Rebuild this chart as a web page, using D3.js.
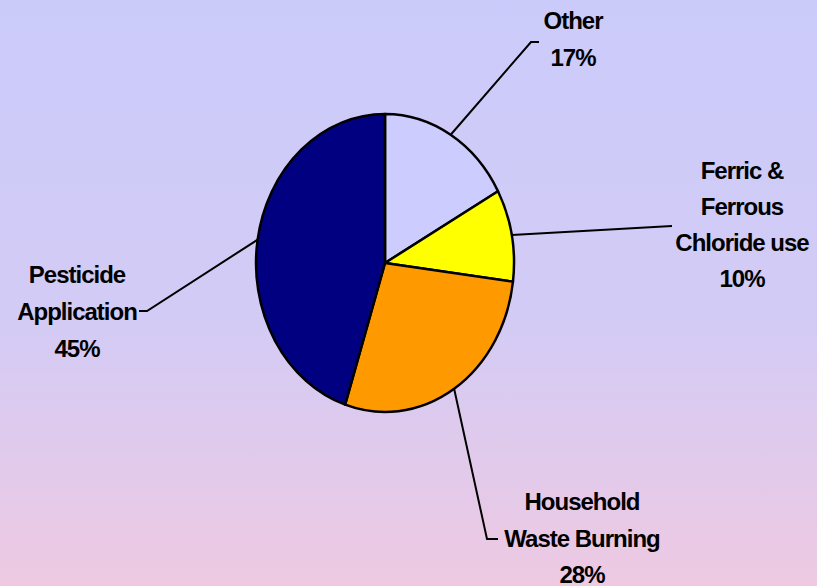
<!DOCTYPE html>
<html>
<head>
<meta charset="utf-8">
<script src="https://cdn.jsdelivr.net/npm/d3@7"></script>
<style>
  html, body { margin: 0; padding: 0; }
  body { width: 817px; height: 586px; overflow: hidden; }
  .pieLabel { font-family: "Liberation Sans", Arial, sans-serif; font-weight: bold; font-size: 24px; letter-spacing: -1px; fill: #000; }
  .leader { fill: none; stroke: #000; stroke-width: 2; }
  .slice { stroke: #000; stroke-width: 2.5; vector-effect: non-scaling-stroke; stroke-linejoin: round; }
</style>
</head>
<body>
<div id="chart"></div>
<script>
// chart data
var categories = ["Other", "Ferric & Ferrous Chloride use", "Household Waste Burning", "Pesticide Application"];
var values = [17, 10, 28, 45];
var labelLines = [["Other"], ["Ferric &", "Ferrous", "Chloride use"], ["Household", "Waste Burning"], ["Pesticide", "Application"]];
var colors = ["#ccccff", "#ffff00", "#ff9900", "#000080"];

// where each label sits and where its leader line bends
var labelLayout = [
    { x: 573, y: 29, step: 37, elbow: [531, 42], end: [539, 42] },
    { x: 742, y: 179, step: 36, elbow: [672, 226], end: [672, 226] },
    { x: 582, y: 510, step: 36.5, elbow: [487, 539], end: [498, 539] },
    { x: 77, y: 283, step: 37, elbow: [147, 311], end: [139, 311] }
];

var width = 817, height = 586;
var cx = 385, cy = 263, rx = 129, ry = 149;

var svg = d3.select("#chart").append("svg")
    .attr("width", width)
    .attr("height", height);

//background gradient, lavender to pink
var grad = svg.append("defs").append("linearGradient")
    .attr("id", "bg")
    .attr("x1", 0).attr("y1", 0).attr("x2", 0).attr("y2", 1);
grad.append("stop").attr("offset", "0%").attr("stop-color", "#cbcbfb");
grad.append("stop").attr("offset", "55%").attr("stop-color", "#d3cbf5");
grad.append("stop").attr("offset", "100%").attr("stop-color", "#eec9e2");

svg.append("rect")
    .attr("width", width)
    .attr("height", height)
    .attr("fill", "url(#bg)");

var data = categories.map(function (c, i) {
    return { name: c, value: values[i], lines: labelLines[i].concat([values[i] + "%"]), color: colors[i], layout: labelLayout[i] };
});

var pie = d3.pie()
    .sort(null)
    .value(d => d.value);

var arcs = pie(data);

// unit arc, stretched into an ellipse
var arc = d3.arc().innerRadius(0).outerRadius(1);

var pieG = svg.append("g")
    .attr("transform", "translate(" + cx + "," + cy + ") scale(" + rx + "," + ry + ")");

pieG.selectAll("path")
    .data(arcs)
    .enter()
    .append("path")
    .attr("class", "slice")
    .attr("d", arc)
    .attr("fill", d => d.data.color);

//leader lines start on the edge at the middle of each slice
function edgePoint(d) {
    var a = (d.startAngle + d.endAngle) / 2;
    return [cx + rx * Math.sin(a), cy - ry * Math.cos(a)];
}

svg.selectAll(".leader")
    .data(arcs)
    .enter()
    .append("polyline")
    .attr("class", "leader")
    .attr("points", function (d) {
        var p = edgePoint(d);
        return [p, d.data.layout.elbow, d.data.layout.end].map(q => q.join(",")).join(" ");
    });

var labels = svg.selectAll(".pieLabel")
    .data(arcs)
    .enter()
    .append("text")
    .attr("class", "pieLabel")
    .attr("text-anchor", "middle");

labels.each(function (d) {
    var t = d3.select(this);
    d.data.lines.forEach(function (line, i) {
        t.append("tspan")
            .attr("x", d.data.layout.x)
            .attr("y", d.data.layout.y + i * d.data.layout.step)
            .text(line);
    });
});
</script>
</body>
</html>
